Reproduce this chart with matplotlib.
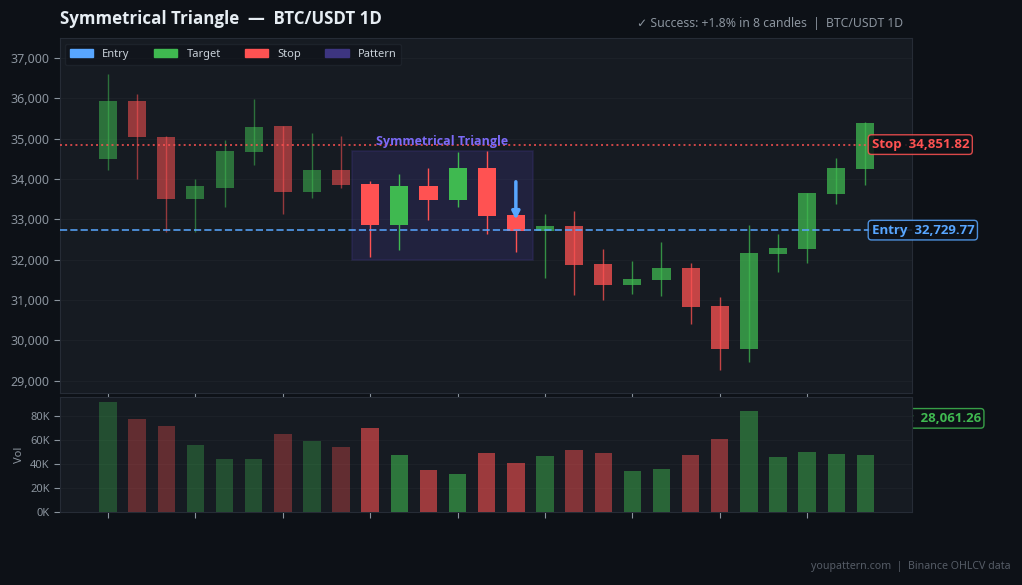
import matplotlib
matplotlib.use('Agg')
import matplotlib.pyplot as plt
from matplotlib.patches import Patch, Rectangle

W, H = 1022, 585
DPI = 100

BG = '#0d1117'
PANEL = '#161b22'
GRID = '#1c2128'
SPINE = '#262c36'
MUTED = '#8b949e'
GREEN = '#3fb950'
RED = '#ff5252'
BLUE = '#58a6ff'
PURPLE = '#7c6af7'

plt.rcParams['font.family'] = ['Noto Sans', 'DejaVu Sans']
BOLD = ['Open Sans', 'DejaVu Sans']

# candles
opens = [34502, 35933, 35047, 33502, 33782, 34675, 35313, 33683, 34221, 33874,
         32864, 33824, 33484, 34271, 33105, 32708, 32832, 31889, 31368, 31492,
         31790, 30847, 29780, 32137, 32269, 33626, 34246]
closes = [35933, 35047, 33502, 33824, 34693, 35288, 33683, 34221, 33857, 32864,
          33824, 33484, 34271, 33087, 32715, 32832, 31864, 31368, 31517, 31790,
          30822, 29780, 32162, 32286, 33650, 34271, 35387]
highs = [36603, 36107, 35065, 33998, 34966, 35983, 35313, 35139, 35065, 33948,
         34122, 34271, 34668, 34693, 33105, 33130, 33204, 32261, 31964, 32435,
         31914, 31070, 32857, 32634, 33650, 34519, 35412]
lows = [34221, 33998, 32683, 32683, 33303, 34353, 33130, 33534, 33782, 32063,
        32237, 32981, 33311, 32641, 32194, 31542, 31120, 30996, 31145, 31095,
        30400, 29259, 29458, 31691, 31914, 33378, 33850]
volumes = [91500, 78000, 72000, 56000, 44000, 44000, 64700, 59000, 54600, 70500,
           48000, 35000, 32000, 49000, 41000, 47000, 52000, 49000, 34500, 36000,
           48000, 61000, 84000, 46000, 50500, 48800, 48000]

price_ticks = [29000, 30000, 31000, 32000, 33000, 34000, 35000, 36000, 37000]
vol_ticks = [0, 20000, 40000, 60000, 80000]
x_ticks = [0, 3, 6, 9, 12, 15, 18, 21, 24]

ENTRY = 32729.77
STOP = 34851.82
TARGET = 28061.26
PATTERN_START = 9
PATTERN_END = 14


def candle_alpha(i):
    if i < PATTERN_START:
        return 0.55
    if i <= PATTERN_END:
        return 1.0
    return 0.75


def volume_alpha(i):
    if i < PATTERN_START:
        return 0.33
    if i <= PATTERN_END:
        return 0.58
    return 0.47


def style_axes(ax):
    ax.set_facecolor(PANEL)
    ax.set_xlim(-1.65, 27.6)
    ax.set_xticks(x_ticks)
    ax.set_xticklabels([])
    ax.grid(True, axis='y', color=GRID, linewidth=0.8)
    ax.set_axisbelow(True)
    ax.tick_params(colors=MUTED, labelsize=9, length=4, width=0.8)
    for spine in ax.spines.values():
        spine.set_color(SPINE)
        spine.set_linewidth(0.8)


fig = plt.figure(figsize=(W / DPI, H / DPI), dpi=DPI, facecolor=BG)
ax = fig.add_axes([60 / W, 1 - 393 / H, 852 / W, 355 / H])
vol = fig.add_axes([60 / W, 1 - 512 / H, 852 / W, 115 / H])
style_axes(ax)
style_axes(vol)

# price panel
ax.set_ylim(28690, 37496)
ax.set_yticks(price_ticks)
ax.set_yticklabels([f'{p:,}' for p in price_ticks])

ax.add_patch(Rectangle((8.38, 32000), 6.21, 2700, facecolor='#3d3580', alpha=0.3,
                       edgecolor='#3d3580', linewidth=1.2, zorder=1))

for i, (o, c, h, l) in enumerate(zip(opens, closes, highs, lows)):
    color = GREEN if c >= o else RED
    a = candle_alpha(i)
    ax.vlines(i, l, h, color=color, linewidth=1, alpha=a, zorder=2)
    ax.bar(i, abs(c - o), bottom=min(o, c), width=0.62, color=color, alpha=a, linewidth=0, zorder=3)

ax.axhline(ENTRY, color=BLUE, linestyle='--', linewidth=1.4, alpha=0.8, zorder=4)
ax.axhline(STOP, color=RED, linestyle=':', linewidth=1.4, alpha=0.8, zorder=4)
ax.axhline(TARGET, color=GREEN, linestyle='--', linewidth=1.4, alpha=0.8, zorder=4)

ax.annotate('', xy=(14, 32990), xytext=(14, 33930),
            arrowprops=dict(arrowstyle='-|>', color=BLUE, lw=2.5, mutation_scale=11,
                            shrinkA=0, shrinkB=0), zorder=5)
ax.text(11.47, 34940, 'Symmetrical Triangle', color=PURPLE, fontsize=9, fontweight='bold', family=BOLD,
        ha='center', va='center', zorder=6)

for name, value, color in [('Stop', STOP, RED), ('Entry', ENTRY, BLUE), ('Target', TARGET, GREEN)]:
    ax.text(26.21, value, f'{name}  {value:,.2f}', color=color, fontsize=9.5, fontweight='bold', family=BOLD,
            ha='left', va='center', clip_on=False, zorder=7,
            bbox=dict(boxstyle='round,pad=0.25', facecolor=BG, edgecolor=color, linewidth=1, alpha=0.85))

handles = [Patch(color=BLUE, label='Entry'), Patch(color=GREEN, label='Target'),
           Patch(color=RED, label='Stop'), Patch(color='#3d3580', label='Pattern')]
legend = ax.legend(handles=handles, loc='upper left', ncol=4, fontsize=8, frameon=True,
                   facecolor=BG, edgecolor=SPINE, labelcolor='#c9d1d9', framealpha=0.5,
                   handlelength=2.1, handletextpad=0.8, columnspacing=2.2, borderpad=0.45,
                   bbox_to_anchor=(0.006, 0.983), borderaxespad=0)
legend.set_zorder(8)

# volume panel
vol.set_ylim(0, 96000)
vol.set_yticks(vol_ticks)
vol.set_yticklabels([f'{v // 1000}K' for v in vol_ticks])
vol.tick_params(axis='y', labelsize=8)
vol.set_ylabel('Vol', color=MUTED, fontsize=8, labelpad=4)
for i, v in enumerate(volumes):
    vol.bar(i, v, width=0.6, color=GREEN if closes[i] >= opens[i] else RED,
            alpha=volume_alpha(i), linewidth=0, zorder=3)

fig.text(60 / W, 1 - 18.5 / H, 'Symmetrical Triangle  \u2014  BTC/USDT 1D', color='#e6edf3',
         fontsize=12.2, fontweight='bold', family=BOLD, ha='left', va='center')
fig.text(903 / W, 1 - 24 / H, '\u2713 Success: +1.8% in 8 candles  |  BTC/USDT 1D', color=MUTED,
         fontsize=8.8, ha='right', va='center')
fig.text(1011 / W, 1 - 567 / H, 'youpattern.com  |  Binance OHLCV data', color='#555c66',
         fontsize=7.65, ha='right', va='center')

fig.savefig('out.png', dpi=DPI, facecolor=BG)
